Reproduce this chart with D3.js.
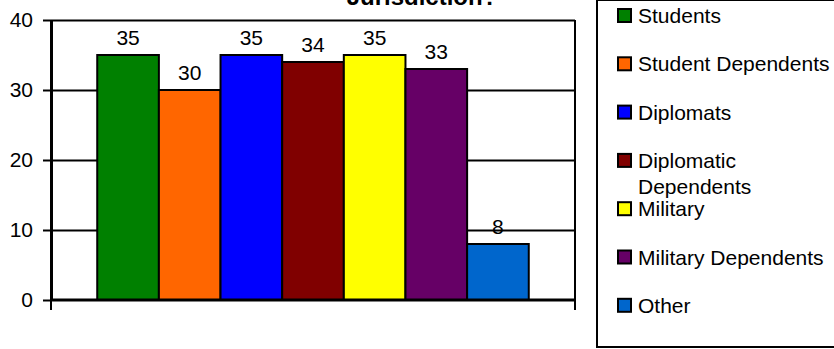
<!DOCTYPE html>
<html>
<head>
<meta charset="utf-8">
<script src="https://cdn.jsdelivr.net/npm/d3@7/dist/d3.min.js"></script>
<style>
  html, body { margin: 0; padding: 0; background: #fff; }
  svg { display: block; font-family: "Liberation Sans", Arial, sans-serif; }
</style>
</head>
<body>
<svg id="chart" width="834" height="349"></svg>
<script>
// Series shown as one bar each
const seriesNames = ["Students", "Student Dependents", "Diplomats", "Diplomatic Dependents",
                     "Military", "Military Dependents", "Other"];
const seriesValues = [35, 30, 35, 34, 35, 33, 8];
const seriesColors = ["#008000", "#FF6600", "#0000FF", "#800000", "#FFFF00", "#660066", "#0066CC"];
const yTicks = [0, 10, 20, 30, 40];
const titleText = "Jurisdiction?";

const W = 834, H = 349;
const plot = { left: 51, right: 575, top: 20, bottom: 300 };
const fontSize = 21;

const svg = d3.select("#chart");

const x = d3.scaleBand()
  .domain(seriesNames)
  .range([plot.left, plot.right])
  .paddingInner(0)
  .paddingOuter(0.75);

const y = d3.scaleLinear()
  .domain([0, 40])
  .range([plot.bottom, plot.top]);

// Title (its upper part runs past the top edge)
svg.append("text")
  .attr("x", 422)
  .attr("y", 5)
  .attr("text-anchor", "middle")
  .attr("font-size", 24)
  .attr("font-weight", "bold")
  .attr("fill", "#000")
  .text(titleText);

// Horizontal gridlines
const grid = svg.append("g")
  .attr("transform", `translate(${plot.left},0)`)
  .call(d3.axisLeft(y).tickValues(yTicks.filter(d => d > 0))
    .tickSize(-(plot.right - plot.left)).tickFormat(""));
grid.select(".domain").remove();
grid.selectAll(".tick line").attr("stroke", "#000").attr("stroke-width", 2);

// Right edge of the plot area
svg.append("line")
  .attr("x1", plot.right).attr("x2", plot.right)
  .attr("y1", y(40)).attr("y2", y(0))
  .attr("stroke", "#000").attr("stroke-width", 2);

// Bars
svg.append("g").selectAll("rect")
  .data(seriesNames.map((n, i) => ({ name: n, value: seriesValues[i], color: seriesColors[i] })))
  .join("rect")
  .attr("x", d => x(d.name))
  .attr("y", d => y(d.value))
  .attr("width", x.bandwidth())
  .attr("height", d => y(0) - y(d.value))
  .attr("fill", d => d.color)
  .attr("stroke", "#000")
  .attr("stroke-width", 2);

// Value labels
svg.append("g").selectAll("text")
  .data(seriesNames.map((n, i) => ({ name: n, value: seriesValues[i] })))
  .join("text")
  .attr("x", d => x(d.name) + x.bandwidth() / 2)
  .attr("y", d => y(d.value) - 10)
  .attr("text-anchor", "middle")
  .attr("font-size", fontSize)
  .attr("fill", "#000")
  .text(d => d.value);

// Y axis
const yAxis = svg.append("g")
  .attr("transform", `translate(${plot.left},0)`)
  .call(d3.axisLeft(y).tickValues(yTicks).tickSize(8).tickPadding(10).tickSizeOuter(0));
yAxis.select(".domain").attr("stroke", "#000").attr("stroke-width", 3);
yAxis.selectAll(".tick line").attr("stroke", "#000").attr("stroke-width", 2);
yAxis.selectAll(".tick text")
  .attr("font-size", fontSize)
  .attr("font-family", "Liberation Sans, Arial, sans-serif")
  .attr("fill", "#000");

// X axis with tick marks at the category boundaries
const xAxis = svg.append("g").attr("transform", `translate(0,${plot.bottom})`);
xAxis.append("line")
  .attr("x1", plot.left).attr("x2", plot.right)
  .attr("stroke", "#000").attr("stroke-width", 3);
xAxis.selectAll("line.tick")
  .data([plot.left, plot.right])
  .join("line")
  .attr("class", "tick")
  .attr("x1", d => d).attr("x2", d => d)
  .attr("y1", 0).attr("y2", 10)
  .attr("stroke", "#000").attr("stroke-width", 2);

// Legend
const legend = svg.append("g");
legend.append("rect")
  .attr("x", 597).attr("y", 0)
  .attr("width", 260).attr("height", 347)
  .attr("fill", "none")
  .attr("stroke", "#000").attr("stroke-width", 2);

const wrapLabel = name => name === "Diplomatic Dependents" ? ["Diplomatic", "Dependents"] : [name];
const itemStep = 48.3;
const items = legend.selectAll("g.item")
  .data(seriesNames.map((n, i) => ({ name: n, color: seriesColors[i], i })))
  .join("g")
  .attr("class", "item")
  .attr("transform", d => `translate(617,${15.5 + d.i * itemStep})`);
items.append("rect")
  .attr("x", 1).attr("y", -6.5)
  .attr("width", 13).attr("height", 13)
  .attr("fill", d => d.color)
  .attr("stroke", "#000").attr("stroke-width", 2);
items.append("text")
  .attr("x", 21)
  .attr("y", 7.5)
  .attr("font-size", fontSize)
  .attr("fill", "#000")
  .selectAll("tspan")
  .data(d => wrapLabel(d.name))
  .join("tspan")
  .attr("x", 21)
  .attr("dy", (d, j) => j === 0 ? 0 : 26)
  .text(d => d);
</script>
</body>
</html>
